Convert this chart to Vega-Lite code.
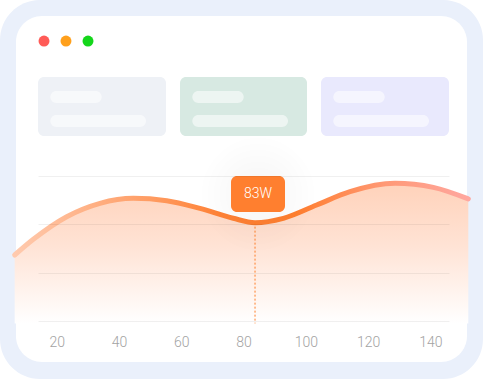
{
  "$schema": "https://vega.github.io/schema/vega-lite/v6.json",
  "width": 411,
  "height": 145,
  "autosize": {"type": "none"},
  "padding": {"left": 38, "top": 176, "right": 34, "bottom": 58},
  "background": "#FFFFFF",
  "config": {"view": {"stroke": null}, "font": "Roboto"},
  "encoding": {
    "x": {
      "field": "x", "type": "quantitative",
      "scale": {"domain": [14, 146], "nice": false, "zero": false},
      "axis": {"title": null, "values": [20, 40, 60, 80, 100, 120, 140], "grid": false, "domain": false, "ticks": false, "tickSize": 0, "labelPadding": 14, "labelFontSize": 14, "labelColor": "#A3A3A3", "labelFont": "Roboto", "labelFontWeight": 300, "zindex": 1}
    },
    "y": {
      "field": "y", "type": "quantitative",
      "scale": {"domain": [0, 60], "nice": false, "zero": false},
      "axis": {"title": null, "values": [0, 20, 40, 60], "grid": true, "gridColor": "#000000", "gridOpacity": 0.06, "gridWidth": 1, "labels": false, "domain": false, "ticks": false, "zindex": 1}
    }
  },
  "resolve": {"scale": {"color": "independent"}},
  "layer": [
    {
      "data": {"values": [{"x": 1.8, "x2": 156.92, "y": 132.83, "y2": -24.0}]},
      "mark": {"type": "rect", "cornerRadius": 40, "fill": "#EAF0FB"},
      "encoding": {"x2": {"field": "x2"}, "y2": {"field": "y2"}}
    },
    {
      "data": {"values": [{"x": 6.93, "x2": 151.78, "y": 126.21, "y2": -16.97}]},
      "mark": {"type": "rect", "cornerRadius": 26, "fill": "#FFFFFF"},
      "encoding": {"x2": {"field": "x2"}, "y2": {"field": "y2"}}
    },
    {
      "data": {"values": [
        {"x": 15.93, "y": 115.86, "dot": "close"},
        {"x": 22.99, "y": 115.86, "dot": "minimize"},
        {"x": 30.06, "y": 115.86, "dot": "zoom"}
      ]},
      "mark": {"type": "point", "filled": true, "size": 120, "opacity": 1},
      "encoding": {
        "color": {"field": "dot", "type": "nominal", "scale": {"domain": ["close", "minimize", "zoom"], "range": ["#FF5B57", "#FFA01C", "#14D61B"]}, "legend": null}
      }
    },
    {
      "data": {"values": [
        {"x": 14, "x2": 55.11, "y": 100.97, "y2": 76.55, "card": "a"},
        {"x": 59.61, "x2": 100.4, "y": 100.97, "y2": 76.55, "card": "b"},
        {"x": 104.89, "x2": 146, "y": 100.97, "y2": 76.55, "card": "c"}
      ]},
      "mark": {"type": "rect", "cornerRadius": 6},
      "encoding": {
        "x2": {"field": "x2"}, "y2": {"field": "y2"},
        "color": {"field": "card", "type": "nominal", "scale": {"domain": ["a", "b", "c"], "range": ["#EEF1F6", "#D7E9E2", "#E9E9FD"]}, "legend": null}
      }
    },
    {
      "data": {"values": [
        {"x": 17.95, "x2": 34.46, "y": 95.17, "y2": 90.21},
        {"x": 17.95, "x2": 48.69, "y": 85.24, "y2": 80.28},
        {"x": 63.56, "x2": 80.07, "y": 95.17, "y2": 90.21},
        {"x": 63.56, "x2": 94.3, "y": 85.24, "y2": 80.28},
        {"x": 108.84, "x2": 125.35, "y": 95.17, "y2": 90.21},
        {"x": 108.84, "x2": 139.58, "y": 85.24, "y2": 80.28}
      ]},
      "mark": {"type": "rect", "cornerRadius": 6, "fill": "#FFFFFF", "opacity": 0.55},
      "encoding": {"x2": {"field": "x2"}, "y2": {"field": "y2"}}
    },
    {
      "data": {"values": [
        {"x": 6.51, "y": 27.31}, {"x": 12.5, "y": 33.8}, {"x": 23.22, "y": 43.16},
        {"x": 33.91, "y": 48.7}, {"x": 44.6, "y": 50.77}, {"x": 55.33, "y": 49.8},
        {"x": 66.03, "y": 46.6}, {"x": 76.7, "y": 42.5}, {"x": 83.7, "y": 40.7},
        {"x": 92.8, "y": 42.5}, {"x": 103.5, "y": 48.0}, {"x": 114.2, "y": 53.5},
        {"x": 128.66, "y": 56.97}, {"x": 140.96, "y": 55.3}, {"x": 152.2, "y": 50.5}
      ]},
      "mark": {"type": "area", "interpolate": "monotone",
        "fill": {"gradient": "linear", "x1": 0, "y1": 0, "x2": 0, "y2": 1,
          "stops": [{"offset": 0, "color": "#FFD2BA"}, {"offset": 0.45, "color": "#FFE3D5"}, {"offset": 1, "color": "#FFFFFF"}]}},
      "encoding": {"y2": {"datum": -1}}
    },
    {
      "data": {"values": [
        {"x": 6.51, "y": 27.31}, {"x": 12.5, "y": 33.8}, {"x": 23.22, "y": 43.16},
        {"x": 33.91, "y": 48.7}, {"x": 44.6, "y": 50.77}, {"x": 55.33, "y": 49.8},
        {"x": 66.03, "y": 46.6}, {"x": 76.7, "y": 42.5}, {"x": 83.7, "y": 40.7},
        {"x": 92.8, "y": 42.5}, {"x": 103.5, "y": 48.0}, {"x": 114.2, "y": 53.5},
        {"x": 128.66, "y": 56.97}, {"x": 140.96, "y": 55.3}, {"x": 152.2, "y": 50.5}
      ]},
      "mark": {"type": "line", "interpolate": "monotone", "strokeWidth": 5, "strokeCap": "round",
        "stroke": {"gradient": "linear", "x1": 0, "y1": 0, "x2": 1, "y2": 0,
          "stops": [{"offset": 0, "color": "#FFCAAE"}, {"offset": 0.25, "color": "#FFA470"}, {"offset": 0.45, "color": "#FF8236"}, {"offset": 0.62, "color": "#FF7E2E"}, {"offset": 0.82, "color": "#FF9977"}, {"offset": 1, "color": "#FFA79F"}]}}
    },
    {
      "data": {"values": [{"x": 83.7, "y": 40.7, "y2": -1}]},
      "mark": {"type": "rule", "stroke": "#FF7F2A", "strokeWidth": 1, "strokeDash": [2, 2]},
      "encoding": {"y2": {"field": "y2"}}
    },
    {
      "data": {"values": [{"x": 84.66, "y": 52.55}]},
      "mark": {"type": "point", "shape": "circle", "size": 14000, "strokeWidth": 0, "opacity": 1,
        "fill": {"gradient": "radial", "x1": 0.5, "y1": 0.5, "r1": 0, "x2": 0.5, "y2": 0.5, "r2": 0.5,
          "stops": [{"offset": 0, "color": "rgba(0,0,0,0.04)"}, {"offset": 0.5, "color": "rgba(0,0,0,0.02)"}, {"offset": 1, "color": "rgba(0,0,0,0)"}]}}
    },
    {
      "data": {"values": [{"x": 75.99, "x2": 93.33, "y": 60, "y2": 45.1}]},
      "mark": {"type": "rect", "cornerRadius": 6, "fill": "#FF7F2F"},
      "encoding": {"x2": {"field": "x2"}, "y2": {"field": "y2"}}
    },
    {
      "data": {"values": [{"x": 84.66, "y": 52.55, "label": "83W"}]},
      "mark": {"type": "text", "color": "#FFFFFF", "fontSize": 14, "font": "Roboto", "fontWeight": 300, "align": "center", "baseline": "middle"},
      "encoding": {"text": {"field": "label"}}
    }
  ]
}
